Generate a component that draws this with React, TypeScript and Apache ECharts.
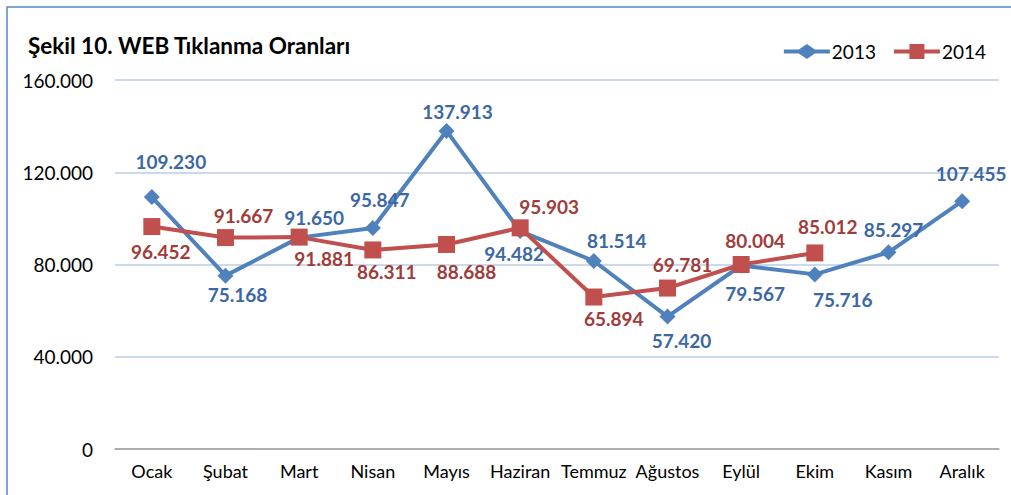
import React, { useEffect, useRef } from "react";
import * as echarts from "echarts";

const months = ["Ocak", "Şubat", "Mart", "Nisan", "Mayıs", "Haziran", "Temmuz", "Ağustos", "Eylül", "Ekim", "Kasım", "Aralık"];
const values2013 = [109.23, 75.168, 91.65, 95.847, 137.913, 94.482, 81.514, 57.42, 79.567, 75.716, 85.297, 107.455];
const values2014 = [96.452, 91.667, 91.881, 86.311, 88.688, 95.903, 65.894, 69.781, 80.004, 85.012];
const yTicks = [0, 40, 80, 120, 160];

// label offsets (dx, dy) relative to the point, styling only
const offsets2013 = [[19, -36], [12, 19], [15, -20], [7, -28], [11, -19], [-6, 22], [23, -21], [14, 24], [14, 28], [28, 25], [5, -23], [9, -28]];
const offsets2014 = [[9, 25], [18, -22], [25, 21], [14, 22], [20, 27], [29, -21], [20, 21], [15, -24], [14, -24], [13, -26]];

const FONT = "Lato, 'Open Sans', sans-serif";

// legend icons: thick line with a diamond / square in the middle
const ICON_DIAMOND = "path://M0,5.5 H15 L23,0 L31,5.5 H46 V9.5 H31 L23,15 L15,9.5 H0 Z";
const ICON_SQUARE = "path://M0,5.5 H15.5 V0 H30.5 V5.5 H46 V9.5 H30.5 V15 H15.5 V9.5 H0 Z";

export default function App() {
  const ref = useRef<HTMLDivElement>(null);
  useEffect(() => {
    document.body.style.margin = "0";
    const chart = echarts.init(ref.current!, null, { renderer: "svg" });
    const fmt = (v: number) => (v === 0 ? "0" : v.toFixed(3));
    const mk = (vals: number[], offs: number[][]) =>
      vals.map((v, i) => ({ value: v, label: { offset: offs[i] } }));
    chart.setOption({
      animation: false,
      backgroundColor: "#ffffff",
      textStyle: { fontFamily: FONT },
      title: {
        text: "Şekil 10. WEB Tıklanma Oranları",
        left: 23,
        top: 29,
        textStyle: { fontFamily: FONT, fontWeight: "bold", fontSize: 22.5, color: "#000" },
      },
      legend: {
        right: 20,
        top: 37,
        itemWidth: 46,
        itemHeight: 15,
        itemGap: 18,
        textStyle: { fontFamily: FONT, fontSize: 19, color: "#000", padding: [0, 0, 0, -3] },
        data: [
          { name: "2013", icon: ICON_DIAMOND },
          { name: "2014", icon: ICON_SQUARE },
        ],
      },
      graphic: [
        {
          type: "rect",
          shape: { x: 7, y: 7, width: 1020, height: 500 },
          style: { fill: "none", stroke: "#5a87c5", lineWidth: 1.5 },
          silent: true,
        },
      ],
      grid: { left: 115, right: 12, top: 80, bottom: 46, containLabel: false },
      xAxis: {
        type: "category",
        data: months,
        boundaryGap: true,
        axisLine: { lineStyle: { color: "#a0a0a0", width: 1.5 } },
        axisTick: { show: false },
        axisLabel: { fontFamily: FONT, fontSize: 18, color: "#000", margin: 13, interval: 0 },
      },
      yAxis: {
        type: "value",
        min: yTicks[0],
        max: yTicks[yTicks.length - 1],
        interval: 40,
        axisLine: { show: false },
        axisTick: { show: false },
        splitLine: { lineStyle: { color: "#b9cde5", width: 1.5 } },
        axisLabel: { fontFamily: FONT, fontSize: 19, color: "#000", margin: 22, formatter: fmt },
      },
      series: [
        {
          name: "2013",
          type: "line",
          data: mk(values2013, offsets2013),
          symbol: "diamond",
          symbolSize: 16,
          lineStyle: { color: "#4f81bd", width: 4 },
          itemStyle: { color: "#4f81bd" },
          label: {
            show: true,
            position: "inside",
            fontFamily: FONT,
            fontWeight: "bold",
            fontSize: 19,
            color: "#3b68a3",
            formatter: (p: any) => fmt(p.value),
          },
          z: 2,
        },
        {
          name: "2014",
          type: "line",
          data: mk(values2014, offsets2014),
          symbol: "rect",
          symbolSize: 17,
          lineStyle: { color: "#c0504d", width: 4 },
          itemStyle: { color: "#c0504d" },
          label: {
            show: true,
            position: "inside",
            fontFamily: FONT,
            fontWeight: "bold",
            fontSize: 19,
            color: "#a03c39",
            formatter: (p: any) => fmt(p.value),
          },
          z: 3,
        },
      ],
    });
    return () => chart.dispose();
  }, []);
  return <div ref={ref} style={{ width: 1011, height: 495 }} />;
}
